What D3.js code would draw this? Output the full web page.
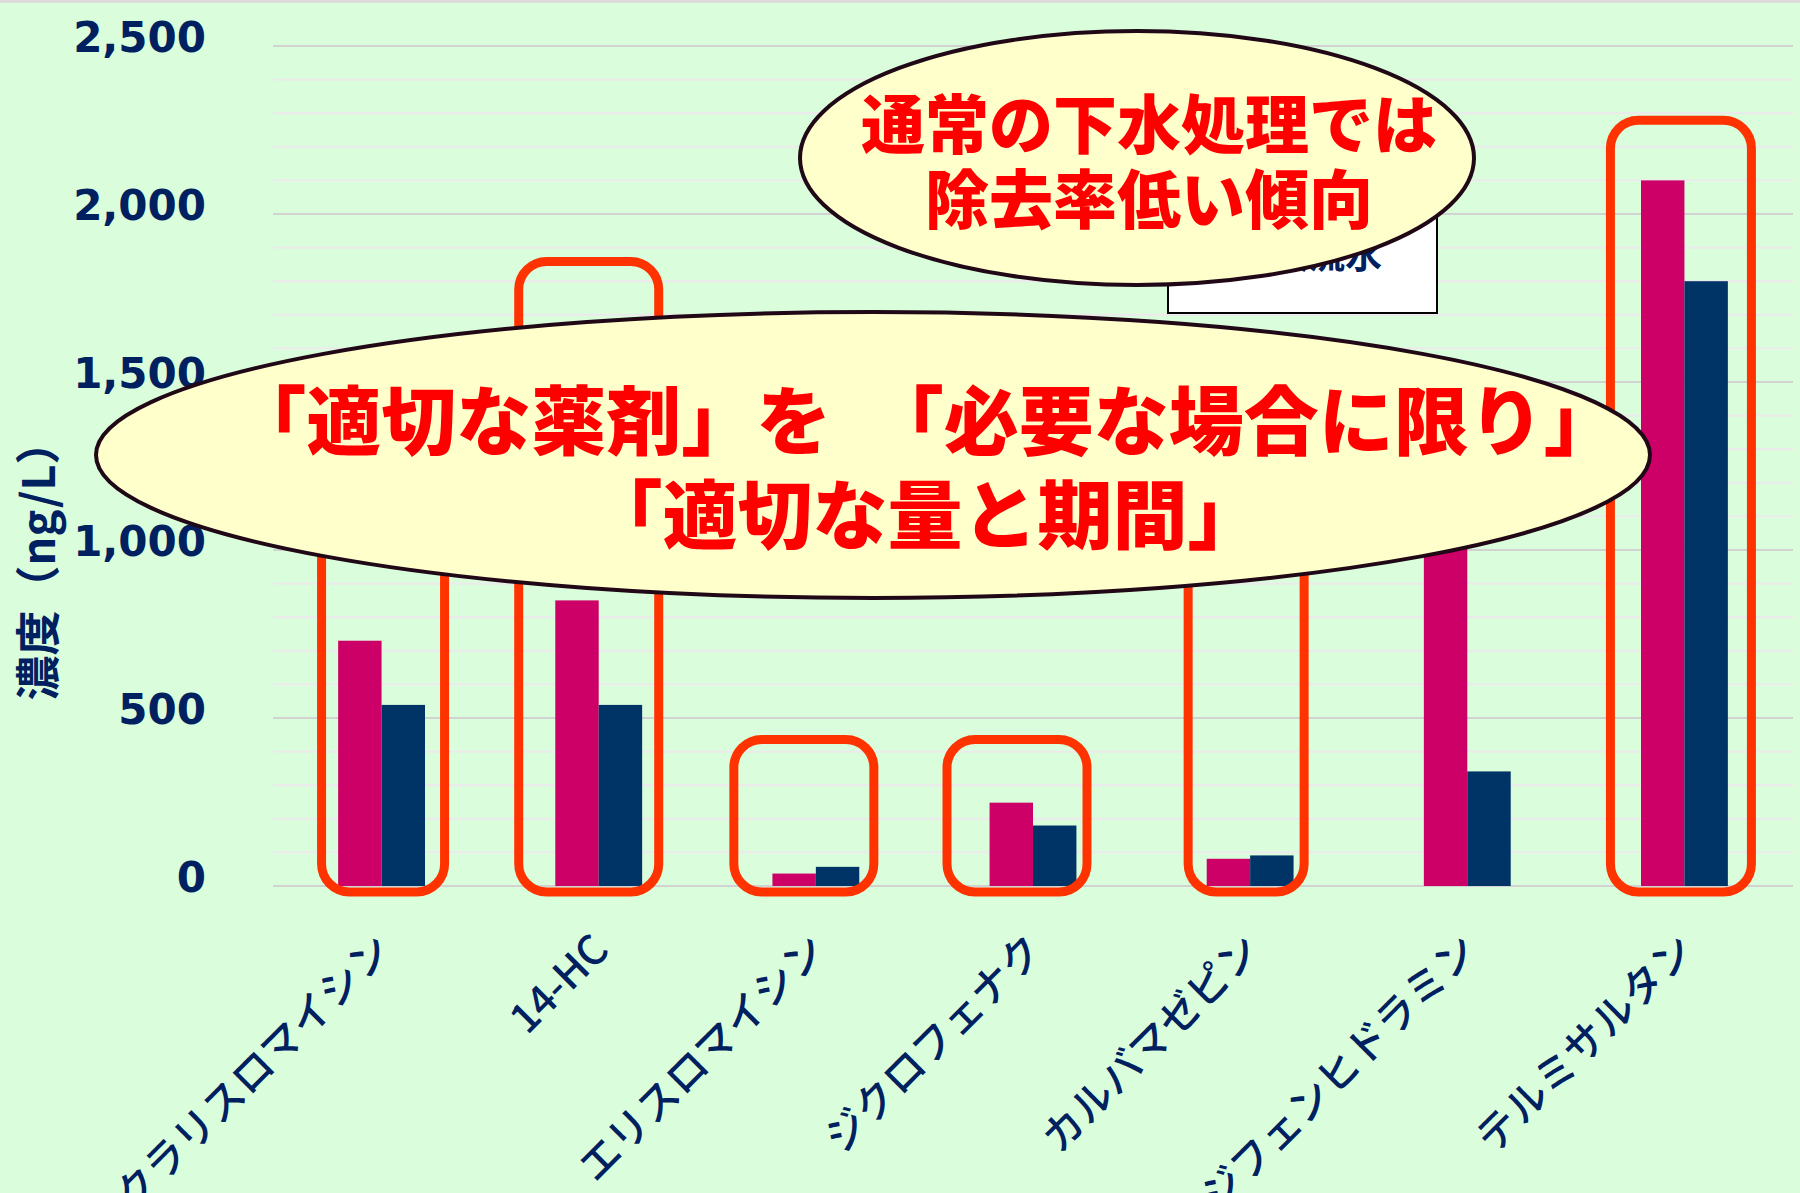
<!DOCTYPE html>
<html>
<head>
<meta charset="utf-8">
<script src="https://cdn.jsdelivr.net/npm/d3@7"></script>
<style>
    body { margin: 0; background: #fff; }
    svg { display: block; }
</style>
</head>
<body>
<div id="chart"></div>
<script>
// data
const categories = ["クラリスロマイシン", "14-HC", "エリスロマイシン", "ジクロフェナク", "カルバマゼピン", "ジフェンヒドラミン", "テルミサルタン"];
const influent = [730, 850, 37, 248, 81, 1300, 2100];   // 流入水
const effluent = [539, 539, 57, 180, 91, 341, 1800];     // 放流水
const seriesNames = ["流入水", "放流水"];
const yTicks = [0, 500, 1000, 1500, 2000, 2500];
const yTitle = "濃度（ng/L）";

// red boxes drawn round some of the groups (top in ng/L)
const boxedCats = ["クラリスロマイシン", "14-HC", "エリスロマイシン", "ジクロフェナク", "カルバマゼピン", "テルミサルタン"];
const boxedTops = [1150, 1859, 436, 436, 1150, 2279];

const noteTop = ["通常の下水処理では", "除去率低い傾向"];
const noteMain = ["「適切な薬剤」を　「必要な場合に限り」", "「適切な量と期間」"];

const W = 1800, H = 1193;
const colors = ["#cc0066", "#003366"];
const navy = "#002060";

const svg = d3.select("#chart").append("svg")
    .attr("width", W)
    .attr("height", H)
    .attr("viewBox", `0 0 ${W} ${H}`);

svg.append("rect").attr("width", W).attr("height", H).attr("fill", "#dafedc");
svg.append("rect").attr("width", W).attr("height", 3).attr("fill", "#dcdcdc");

const x = d3.scaleBand()
    .domain(categories)
    .range([273, 1793])
    .paddingInner(0.6)
    .paddingOuter(0.3);

const y = d3.scaleLinear().domain([0, 2500]).range([886, 46]);

// grid: light every 100, darker every 500
const minor = d3.range(0, 2501, 100);
svg.append("g").selectAll("line")
    .data(minor)
    .join("line")
    .attr("x1", 273).attr("x2", 1793)
    .attr("y1", d => y(d)).attr("y2", d => y(d))
    .attr("stroke", d => d % 500 === 0 ? "#d2d2d2" : "#ebebeb")
    .attr("stroke-width", 2.2);

// y axis labels
const yAxis = svg.append("g")
    .attr("transform", "translate(206,0)")
    .call(d3.axisLeft(y).tickValues(yTicks).tickSize(0).tickPadding(0).tickFormat(d3.format(",")));
yAxis.select(".domain").remove();
yAxis.selectAll("text")
    .attr("dy", "0.32em")
    .attr("y", -8)
    .attr("fill", navy)
    .style("font-family", "'DejaVu Sans', Verdana, sans-serif")
    .style("font-weight", "bold")
    .style("font-size", "42px");

svg.append("text")
    .attr("transform", "translate(35,560) rotate(-90)")
    .attr("text-anchor", "middle")
    .attr("dominant-baseline", "central")
    .attr("fill", navy)
    .style("font-family", "'Noto Sans CJK JP', sans-serif")
    .style("font-weight", 700)
    .style("font-size", "45px")
    .text(yTitle);

// bars
const xs = d3.scaleBand().domain(seriesNames).range([0, x.bandwidth()]);
const rows = categories.map((c, i) => ({cat: c, vals: [influent[i], effluent[i]]}));

svg.append("g").selectAll("g")
    .data(rows)
    .join("g")
    .attr("transform", d => `translate(${x(d.cat)},0)`)
    .selectAll("rect")
    .data(d => d.vals.map((v, j) => ({name: seriesNames[j], v: v, j: j})))
    .join("rect")
    .attr("x", d => xs(d.name))
    .attr("width", xs.bandwidth())
    .attr("y", d => y(d.v))
    .attr("height", d => y(0) - y(d.v))
    .attr("fill", d => colors[d.j]);

// x labels
svg.append("g").selectAll("text")
    .data(categories)
    .join("text")
    .attr("transform", d => `translate(${x(d) + x.bandwidth() / 2 + 2},942) rotate(-45)`)
    .attr("text-anchor", "end")
    .attr("dy", "0.35em")
    .attr("fill", navy)
    .style("font-family", "'Noto Sans CJK JP', sans-serif")
    .style("font-weight", 500)
    .style("font-size", "41px")
    .text(d => d);

// red highlight boxes (left/right offsets from the group centre)
const boxSides = {
    "クラリスロマイシン": [-60, 63],
    "14-HC": [-80, 60],
    "エリスロマイシン": [-82, 58],
    "ジクロフェナク": [-86, 54],
    "カルバマゼピン": [-62, 54],
    "テルミサルタン": [-74, 67]
};
svg.append("g").selectAll("rect")
    .data(boxedCats.map((c, i) => ({cat: c, top: boxedTops[i]})))
    .join("rect")
    .attr("x", d => x(d.cat) + x.bandwidth() / 2 + boxSides[d.cat][0])
    .attr("width", d => boxSides[d.cat][1] - boxSides[d.cat][0])
    .attr("y", d => y(d.top))
    .attr("height", d => y(0) + 6 - y(d.top))
    .attr("rx", 28)
    .attr("fill", "none")
    .attr("stroke", "#ff3300")
    .attr("stroke-width", 9);

// legend (mostly hidden behind the callout)
const legend = svg.append("g");
legend.append("rect")
    .attr("x", 1168).attr("y", 190).attr("width", 269).attr("height", 123)
    .attr("fill", "#fff").attr("stroke", "#000").attr("stroke-width", 2);
legend.selectAll("g")
    .data(seriesNames)
    .join("g")
    .attr("transform", (d, i) => `translate(1215,${212 + i * 44})`)
    .each(function(d, i) {
        const g = d3.select(this);
        g.append("rect").attr("x", 0).attr("y", -14).attr("width", 30).attr("height", 28).attr("fill", colors[i]);
        g.append("text")
            .attr("x", 56).attr("dy", "0.35em")
            .attr("fill", navy)
            .style("font-family", "'Noto Sans CJK JP', sans-serif")
            .style("font-weight", 700)
            .style("font-size", "37px")
            .text(d);
    });

// callouts
function callout(cx, cy, rx, ry, lines, tx, ty, lh, fs) {
    const g = svg.append("g");
    g.append("ellipse")
        .attr("cx", cx).attr("cy", cy).attr("rx", rx).attr("ry", ry)
        .attr("fill", "#ffffcc")
        .attr("stroke", "#200816")
        .attr("stroke-width", 4);
    g.selectAll("text")
        .data(lines)
        .join("text")
        .attr("x", tx)
        .attr("y", (d, i) => ty + i * lh)
        .attr("text-anchor", "middle")
        .attr("dominant-baseline", "central")
        .attr("fill", "#ff0000")
        .style("font-family", "'Noto Sans CJK JP', sans-serif")
        .style("font-weight", 900)
        .style("font-size", fs + "px")
        .text(d => d);
}

callout(1137, 158, 337, 127, noteTop, 1149, 120, 75, 64);
callout(873, 455, 777, 143, noteMain, 925, 416, 94, 75);
</script>
</body>
</html>
